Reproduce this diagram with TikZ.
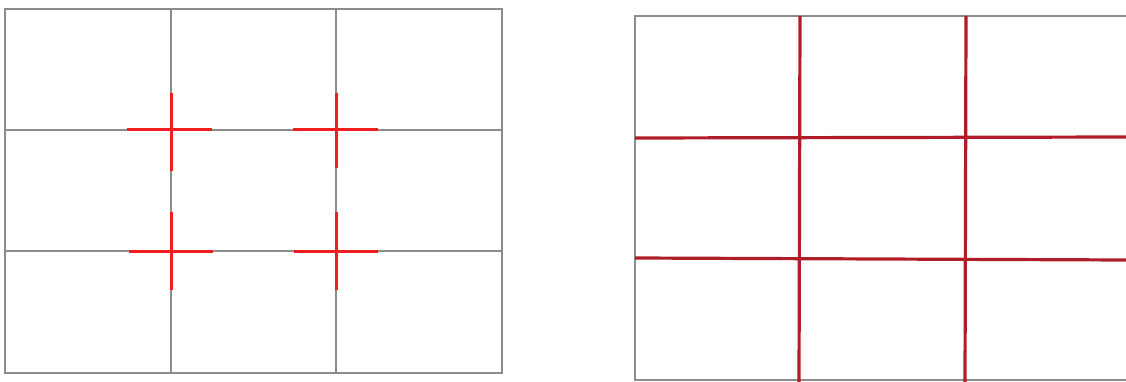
\documentclass[tikz,border=0pt]{standalone}
\usepackage{tikz}
\usetikzlibrary{calc}
\definecolor{gridgray}{RGB}{140,140,140}
\definecolor{crossred}{RGB}{240,30,30}
\definecolor{thirdred}{RGB}{175,30,40}

\begin{document}
\begin{tikzpicture}[x=1pt,y=-1pt,
  gridline/.style={gridgray,line width=1.3pt},
  crossmark/.style={crossred,line width=3pt},
  thirdline/.style={thirdred,line width=3.2pt}]
  \useasboundingbox (0,0) rectangle (1126,382);
  % left panel: grid with marked crossings
  \draw[gridline] (5,9) rectangle (502,373);
  \draw[gridline] (171,9)--(171,373);
  \draw[gridline] (336,9)--(336,373);
  \draw[gridline] (5,130)--(502,130);
  \draw[gridline] (5,251)--(502,251);
  \coordinate (P1) at (171,130);
  \coordinate (P2) at (336,130);
  \coordinate (P3) at (171,251);
  \coordinate (P4) at (336,251);
  \draw[crossmark] ($(P1)+(-44,0)$)--($(P1)+(41,0)$);
  \draw[crossmark] ($(P1)+(0,-37)$)--($(P1)+(0,41)$);
  \draw[crossmark] ($(P2)+(-43,0)$)--($(P2)+(42,0)$);
  \draw[crossmark] ($(P2)+(0,-37)$)--($(P2)+(0,38)$);
  \draw[crossmark] ($(P3)+(-42,0)$)--($(P3)+(42,0)$);
  \draw[crossmark] ($(P3)+(0,-39)$)--($(P3)+(0,39)$);
  \draw[crossmark] ($(P4)+(-42,0)$)--($(P4)+(42,0)$);
  \draw[crossmark] ($(P4)+(0,-39)$)--($(P4)+(0,39)$);
  % right panel: thirds drawn across
  \draw[gridline] (1126,16)--(635,16)--(635,380)--(1126,380);
  \draw[thirdline] (635,138)--(1126,137);
  \draw[thirdline] (635,258)--(1126,260);
  \draw[thirdline] (800,16)--(799,382);
  \draw[thirdline] (966,16)--(965,382);
\end{tikzpicture}
\end{document}
